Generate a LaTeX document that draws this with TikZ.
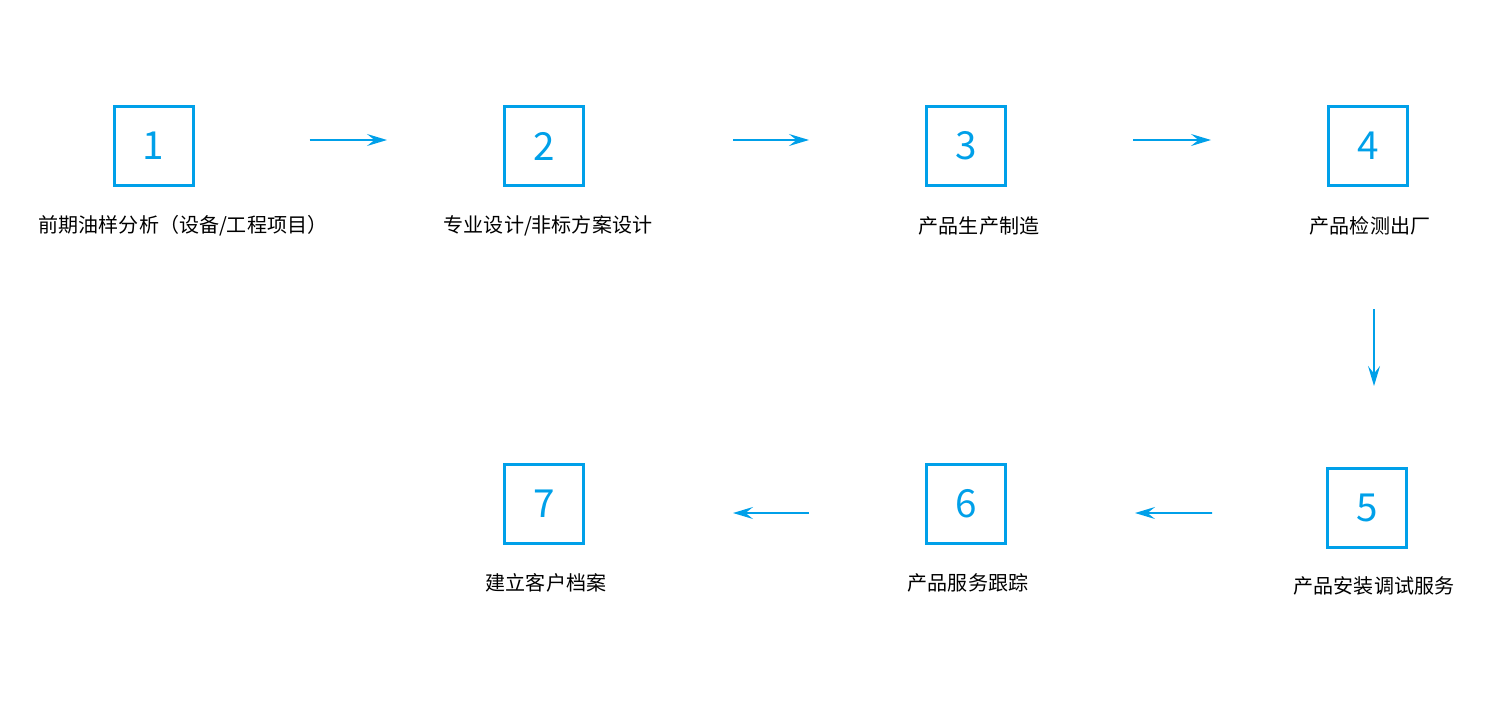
\documentclass[tikz,border=0pt]{standalone}
\usepackage{fontspec}
\setmainfont{Noto Sans CJK SC}
\usetikzlibrary{arrows.meta}
\definecolor{stepblue}{RGB}{0,160,233}
\begin{document}
\begin{tikzpicture}[
  stepbox/.style={draw=stepblue, line width=0.06cm, minimum size=1.58cm, inner sep=0pt,
    text=stepblue, font=\fontsize{22}{24}\selectfont},
  steplabel/.style={font=\fontsize{11.4}{13}\selectfont, inner sep=0pt},
  flow/.style={draw=stepblue, line width=0.035cm, -{Stealth[length=0.4cm,width=0.24cm,inset=0.15cm]}}
]
\useasboundingbox (0,0) rectangle (30,-14);

\node[stepbox] (1) at (3.07,-2.92) {1};
\node[stepbox] (2) at (10.88,-2.92) {2};
\node[stepbox] (3) at (19.32,-2.92) {3};
\node[stepbox] (4) at (27.36,-2.92) {4};
\node[stepbox] (5) at (27.34,-10.16) {5};
\node[stepbox] (6) at (19.32,-10.08) {6};
\node[stepbox] (7) at (10.88,-10.08) {7};

\node[steplabel] (l1) at (3.66,-4.52) {前期油样分析（设备/工程项目）};
\node[steplabel] (l2) at (10.96,-4.52) {专业设计/非标方案设计};
\node[steplabel] (l3) at (19.58,-4.52) {产品生产制造};
\node[steplabel] (l4) at (27.40,-4.52) {产品检测出厂};
\node[steplabel] (l5) at (27.48,-11.72) {产品安装调试服务};
\node[steplabel] (l6) at (19.36,-11.66) {产品服务跟踪};
\node[steplabel] (l7) at (10.92,-11.66) {建立客户档案};

\path[flow,shorten <=2.3cm,shorten >=2.32cm] ([yshift=0.12cm]1.east) -- ([yshift=0.12cm]2.west);
\path[flow,shorten <=2.96cm,shorten >=2.32cm] ([yshift=0.12cm]2.east) -- ([yshift=0.12cm]3.west);
\path[flow,shorten <=2.52cm,shorten >=2.32cm] ([yshift=0.12cm]3.east) -- ([yshift=0.12cm]4.west);
\path[flow,shorten <=2.44cm,shorten >=1.62cm] ([xshift=0.12cm]4.south) -- ([xshift=0.14cm]5.north);
\path[flow,shorten <=2.28cm,shorten >=2.56cm] ([yshift=-0.1cm]5.west) -- ([yshift=-0.18cm]6.east);
\path[flow,shorten <=2.32cm,shorten >=2.96cm] ([yshift=-0.18cm]6.west) -- ([yshift=-0.18cm]7.east);
\end{tikzpicture}
\end{document}
